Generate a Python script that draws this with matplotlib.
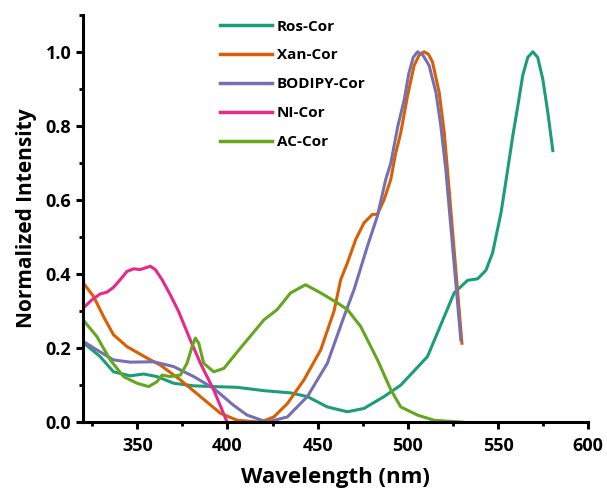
import matplotlib
matplotlib.use('Agg')
import matplotlib.pyplot as plt
from matplotlib.ticker import MultipleLocator

# spectra (wavelength nm, normalized intensity)
ros_x = [320, 329.4, 336.8, 346.1, 353.5, 360.9, 370.2, 381.3, 392.4, 405.4, 420.2, 435, 444.3,
         455.4, 466.5, 475.7, 486.8, 496.1, 510.9, 520.2, 525.7, 533.2, 538.7, 543.3, 547,
         551.7, 555, 558.2, 561, 563.7, 566.5, 569.3, 572, 574.8, 577.6, 580.4]
ros_y = [0.215, 0.177, 0.136, 0.125, 0.13, 0.123, 0.105, 0.098, 0.096, 0.094, 0.085, 0.079, 0.069,
         0.041, 0.028, 0.037, 0.069, 0.1, 0.177, 0.285, 0.349, 0.383, 0.387, 0.41, 0.457,
         0.566, 0.67, 0.773, 0.854, 0.936, 0.985, 1.0, 0.985, 0.927, 0.837, 0.733]

xan_x = [320, 325.7, 331.3, 336.8, 344.3, 355.4, 362.8, 373.9, 385, 396.1, 405.4, 418.3, 425.7,
         433.2, 442.4, 451.7, 459.1, 462.8, 466.5, 471.1, 475.7, 480.4, 483.1, 486.8, 490.6,
         493, 496.1, 499.8, 503.5, 506.5, 509, 511.5, 513.7, 517.4, 520.2, 522, 530]
xan_y = [0.376, 0.34, 0.285, 0.236, 0.204, 0.173, 0.154, 0.114, 0.069, 0.024, 0.005, 0.0, 0.014,
         0.05, 0.114, 0.195, 0.30, 0.385, 0.43, 0.493, 0.538, 0.561, 0.561, 0.60, 0.656,
         0.72, 0.782, 0.88, 0.963, 0.993, 1.0, 0.993, 0.972, 0.89, 0.782, 0.68, 0.213]

bod_x = [320, 327.6, 336.8, 346.1, 359, 370.2, 381.3, 392.4, 403.5, 410.9, 422, 433.2, 444.3,
         455.4, 464.6, 470.2, 477.6, 483.1, 487.8, 490.6, 494.5, 498, 500.5, 503, 505.4, 508.5,
         511.8, 515.6, 518.3, 521.1, 529.4]
bod_y = [0.218, 0.195, 0.168, 0.162, 0.163, 0.15, 0.123, 0.091, 0.045, 0.019, 0.0, 0.014, 0.069,
         0.159, 0.285, 0.358, 0.475, 0.556, 0.656, 0.70, 0.80, 0.87, 0.94, 0.985, 1.0, 0.99,
         0.963, 0.89, 0.80, 0.68, 0.222]

ni_x = [320, 324.8, 329.4, 333.2, 336.8, 340.6, 344.3, 348, 351.7, 355.4, 357.2, 360, 363.7,
        368.3, 372.9, 379.4, 385, 392.4, 399.8]
ni_y = [0.308, 0.33, 0.346, 0.351, 0.364, 0.385, 0.407, 0.414, 0.412, 0.418, 0.421, 0.412, 0.385,
        0.344, 0.299, 0.222, 0.159, 0.087, 0.0]

ac_x = [320, 327.6, 335, 342.4, 349.8, 356.3, 360.9, 363.7, 368.3, 373.9, 377.6, 380.4, 382.2,
        384.1, 386.8, 392.4, 398, 407.2, 420.2, 427.6, 435, 443.3, 451.7, 460.9, 466.5, 473.9,
        483.2, 490.6, 496.1, 505.4, 514.6, 530.4]
ac_y = [0.276, 0.231, 0.168, 0.123, 0.105, 0.096, 0.109, 0.127, 0.123, 0.127, 0.159, 0.204, 0.227,
        0.213, 0.159, 0.136, 0.145, 0.2, 0.276, 0.304, 0.349, 0.371, 0.349, 0.322, 0.304, 0.258,
        0.168, 0.087, 0.041, 0.019, 0.005, 0.0]

labels = ['Ros-Cor', 'Xan-Cor', 'BODIPY-Cor', 'NI-Cor', 'AC-Cor']
colors = ['#1b9e77', '#d95f02', '#7570b3', '#e7298a', '#66a61e']

plt.rcParams['font.family'] = ['Open Sans', 'DejaVu Sans']
plt.rcParams['font.weight'] = 'bold'

fig = plt.figure(figsize=(6.07, 4.92), dpi=100)
ax = fig.add_axes([0.137, 0.142, 0.832, 0.828])

series = [(ros_x, ros_y), (xan_x, xan_y), (bod_x, bod_y), (ni_x, ni_y), (ac_x, ac_y)]
for (xs, ys), lab, c in zip(series, labels, colors):
    ax.plot(xs, ys, color=c, lw=2.2, label=lab, solid_joinstyle='round')

ax.set_xlim(320, 600)
ax.set_ylim(0, 1.1)
ax.xaxis.set_major_locator(MultipleLocator(50))
ax.xaxis.set_minor_locator(MultipleLocator(25))
ax.yaxis.set_major_locator(MultipleLocator(0.2))
ax.yaxis.set_minor_locator(MultipleLocator(0.1))
ax.yaxis.set_major_formatter(plt.FormatStrFormatter('%.1f'))

for s in ['top', 'right']:
    ax.spines[s].set_visible(False)
for s in ['left', 'bottom']:
    ax.spines[s].set_linewidth(2.2)
ax.tick_params(which='major', length=5, width=2.2, labelsize=13, direction='out')
ax.tick_params(axis='x', which='major', pad=6)
ax.tick_params(which='minor', length=3, width=2, direction='out')

ax.set_xlabel('Wavelength (nm)', fontsize=16, fontweight='bold', labelpad=8)
ax.set_ylabel('Normalized Intensity', fontsize=15, fontweight='bold', labelpad=6)

leg = ax.legend(loc='upper left', bbox_to_anchor=(0.271, 0.988), frameon=False,
                fontsize=11, handlelength=3.4, handletextpad=0.3, labelspacing=0.97,
                borderpad=0, borderaxespad=0)
for t in leg.get_texts():
    t.set_fontweight('bold')
for h in leg.get_lines():
    h.set_linewidth(2.5)

fig.savefig('out.png', dpi=100)
